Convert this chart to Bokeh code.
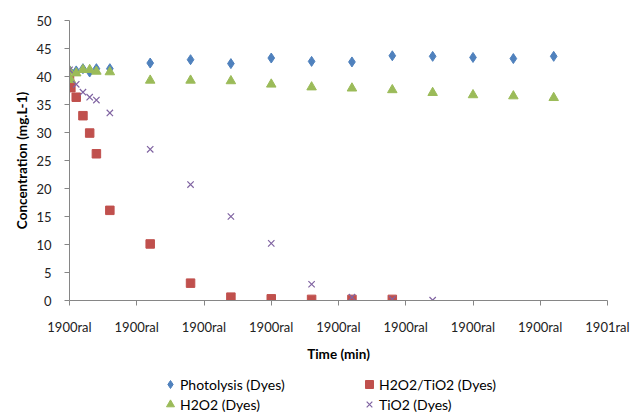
from bokeh.plotting import figure
from bokeh.layouts import column
from bokeh.models import Range1d, FixedTicker, Legend, LegendItem
from bokeh.embed import file_html
from bokeh.resources import INLINE

# ---- data (time in min, concentration in mg/L) ----
photolysis_t = [0, 5, 10, 15, 20, 30, 60, 90, 120, 150, 180, 210, 240, 270, 300, 330, 360]
photolysis_c = [41.1, 41.0, 41.4, 40.8, 41.4, 41.4, 42.4, 43.0, 42.3, 43.3, 42.7, 42.6, 43.7, 43.6, 43.4, 43.2, 43.6]

h2o2_tio2_t = [0, 1, 5, 10, 15, 20, 30, 60, 90, 120, 150, 180, 210, 240]
h2o2_tio2_c = [39.5, 38.0, 36.3, 33.0, 29.9, 26.2, 16.1, 10.1, 3.1, 0.6, 0.3, 0.2, 0.2, 0.2]

h2o2_t = [0, 1, 5, 10, 15, 20, 30, 60, 90, 120, 150, 180, 210, 240, 270, 300, 330, 360]
h2o2_c = [41.0, 39.4, 40.6, 41.2, 41.2, 40.9, 40.8, 39.3, 39.3, 39.2, 38.6, 38.1, 37.9, 37.6, 37.1, 36.7, 36.5, 36.2]

tio2_t = [0, 5, 10, 15, 20, 30, 60, 90, 120, 150, 180, 210, 240, 270]
tio2_c = [41.2, 38.6, 37.2, 36.3, 35.8, 33.5, 27.0, 20.7, 15.0, 10.2, 2.9, 0.6, 0.2, 0.05]

series_names = ["Photolysis (Dyes)", "H2O2/TiO2 (Dyes)", "H2O2 (Dyes)", "TiO2 (Dyes)"]

x_ticks = [0, 50, 100, 150, 200, 250, 300, 350, 400]
x_tick_labels = ["1900ral", "1900ral", "1900ral", "1900ral", "1900ral", "1900ral", "1900ral", "1900ral", "1901ral"]
y_ticks = [0, 5, 10, 15, 20, 25, 30, 35, 40, 45, 50]

FONT = "Lato"
AXIS_COLOR = "#868686"
COLORS = ["#4F81BD", "#C0504D", "#9BBB59", "#8064A2"]

# marker styles shared by the plot and the legend
STYLES = [
    dict(marker="diamond", size=10, fill_color=COLORS[0], line_color=COLORS[0]),
    dict(marker="square", size=8.5, fill_color=COLORS[1], line_color=COLORS[1]),
    dict(marker="triangle", size=9.5, fill_color=COLORS[2], line_color=COLORS[2]),
    dict(marker="x", size=9, line_color=COLORS[3], line_width=1.2),
]

p = figure(width=632, height=374, output_backend="svg", toolbar_location=None,
           x_range=Range1d(0, 400), y_range=Range1d(0, 50),
           min_border_left=69, min_border_right=25, min_border_top=20, min_border_bottom=74)
p.outline_line_color = None
p.xgrid.visible = False
p.ygrid.visible = False

p.scatter(photolysis_t, photolysis_c, **STYLES[0])
p.scatter(h2o2_tio2_t, h2o2_tio2_c, **STYLES[1])
p.scatter(h2o2_t, h2o2_c, **STYLES[2])
p.scatter(tio2_t, tio2_c, **STYLES[3])

for ax in (p.xaxis[0], p.yaxis[0]):
    ax.axis_line_color = AXIS_COLOR
    ax.major_tick_line_color = AXIS_COLOR
    ax.major_tick_in = 0
    ax.major_tick_out = 5
    ax.minor_tick_line_color = None
    ax.major_label_text_font = FONT
    ax.major_label_text_font_size = "13px"
    ax.major_label_text_color = "#222222"
    ax.axis_label_text_font = FONT
    ax.axis_label_text_font_size = "13.5px"
    ax.axis_label_text_font_style = "bold"
    ax.axis_label_text_color = "#000000"

p.xaxis.ticker = FixedTicker(ticks=x_ticks)
p.xaxis.major_label_overrides = {t: lab for t, lab in zip(x_ticks, x_tick_labels)}
p.xaxis.major_label_standoff = 13
p.xaxis.axis_label = "Time (min)"
p.xaxis.axis_label_standoff = 8

p.yaxis.ticker = FixedTicker(ticks=y_ticks)
p.yaxis.major_label_standoff = 13
p.yaxis.axis_label = "Concentration (mg.L-1)"
p.yaxis.axis_label_standoff = 3

# legend panel underneath
lg = figure(width=632, height=40, output_backend="svg", toolbar_location=None,
            x_axis_type=None, y_axis_type=None, x_range=Range1d(0, 1), y_range=Range1d(0, 1),
            min_border_left=69, min_border_right=25, min_border_top=0, min_border_bottom=0)
lg.outline_line_color = None
lg.xgrid.visible = False
lg.ygrid.visible = False
nan = float("nan")
renderers = {}
for name, st in zip(series_names, STYLES):
    renderers[name] = lg.scatter(x=[nan], y=[nan], **st)

# column-major fill: column 1 = Photolysis, H2O2 ; column 2 = H2O2/TiO2, TiO2
legend_order = ["Photolysis (Dyes)", "H2O2 (Dyes)", "H2O2/TiO2 (Dyes)", "TiO2 (Dyes)"]
items = [LegendItem(label=n, renderers=[renderers[n]]) for n in legend_order]

legend = Legend(items=items, ncols=2, location=(91, 0), orientation="vertical")
legend.label_text_font = FONT
legend.label_text_font_size = "14px"
legend.label_text_color = "#000000"
legend.border_line_color = None
legend.background_fill_alpha = 0
legend.padding = 0
legend.margin = 0
legend.spacing = 0
legend.glyph_width = 20
legend.glyph_height = 20
legend.label_height = 20
legend.label_standoff = 0
legend.label_width = 179
lg.add_layout(legend, "center")

layout = column(p, lg, spacing=0)
open("out.html", "w").write(file_html(layout, INLINE))
